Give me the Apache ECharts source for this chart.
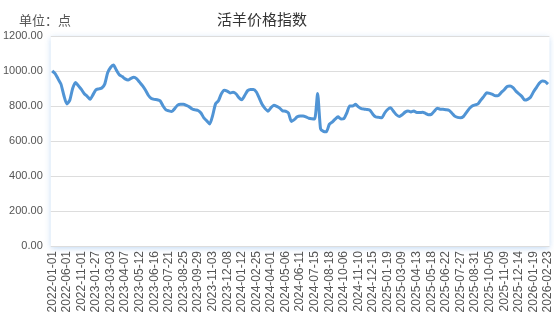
<!DOCTYPE html>
<html>
<head>
<meta charset="utf-8">
<script src="https://cdn.jsdelivr.net/npm/echarts@6/dist/echarts.min.js"></script>
<style>
html,body{margin:0;padding:0;background:#fff;}
#chart{width:554px;height:324px;}
</style>
</head>
<body>
<div id="chart"></div>
<script>
var chartTitle = '活羊价格指数';
var unitText = '单位：点';

var dates = [
'2022-01-01','2022-02-01','2022-03-01','2022-04-01','2022-05-01',
'2022-06-01','2022-07-01','2022-08-01','2022-09-01','2022-10-01',
'2022-11-01','2022-12-01','2023-01-06','2023-01-13','2023-01-20',
'2023-01-27','2023-02-03','2023-02-10','2023-02-17','2023-02-24',
'2023-03-03','2023-03-10','2023-03-17','2023-03-24','2023-03-31',
'2023-04-07','2023-04-14','2023-04-21','2023-04-28','2023-05-05',
'2023-05-12','2023-05-19','2023-05-26','2023-06-02','2023-06-09',
'2023-06-16','2023-06-23','2023-06-30','2023-07-07','2023-07-14',
'2023-07-21','2023-07-28','2023-08-04','2023-08-11','2023-08-18',
'2023-08-25','2023-09-01','2023-09-08','2023-09-15','2023-09-22',
'2023-09-29','2023-10-06','2023-10-13','2023-10-20','2023-10-27',
'2023-11-03','2023-11-10','2023-11-17','2023-11-24','2023-12-01',
'2023-12-08','2023-12-15','2023-12-22','2023-12-29','2024-01-05',
'2024-01-12','2024-01-19','2024-01-26','2024-02-02','2024-02-18',
'2024-02-25','2024-03-04','2024-03-11','2024-03-18','2024-03-25',
'2024-04-01','2024-04-08','2024-04-15','2024-04-22','2024-04-29',
'2024-05-06','2024-05-13','2024-05-20','2024-05-27','2024-06-03',
'2024-06-11','2024-06-17','2024-06-24','2024-07-01','2024-07-08',
'2024-07-15','2024-07-22','2024-07-29','2024-08-05','2024-08-11',
'2024-08-18','2024-08-25','2024-09-01','2024-09-08','2024-09-22',
'2024-10-06','2024-10-13','2024-10-20','2024-10-27','2024-11-03',
'2024-11-10','2024-11-17','2024-11-24','2024-12-01','2024-12-08',
'2024-12-15','2024-12-22','2024-12-29','2025-01-05','2025-01-12',
'2025-01-19','2025-01-26','2025-02-09','2025-02-16','2025-02-23',
'2025-03-09','2025-03-16','2025-03-23','2025-03-30','2025-04-06',
'2025-04-13','2025-04-20','2025-04-27','2025-05-04','2025-05-11',
'2025-05-18','2025-05-25','2025-06-01','2025-06-08','2025-06-15',
'2025-06-22','2025-06-29','2025-07-06','2025-07-13','2025-07-20',
'2025-07-27','2025-08-03','2025-08-10','2025-08-17','2025-08-24',
'2025-08-31','2025-09-07','2025-09-14','2025-09-21','2025-09-28',
'2025-10-05','2025-10-12','2025-10-19','2025-10-26','2025-11-02',
'2025-11-09','2025-11-16','2025-11-23','2025-11-30','2025-12-07',
'2025-12-14','2025-12-21','2025-12-28','2026-01-05','2026-01-12',
'2026-01-19','2026-01-26','2026-02-02','2026-02-09','2026-02-16',
'2026-02-23'
];

var indexValues = [
1000,985,955,925,860,
812,832,900,935,915,
895,870,855,838,865,
893,898,903,925,990,
1020,1034,1005,978,968,
955,948,958,964,955,
935,915,890,860,843,
838,836,830,800,778,
772,768,785,805,810,
810,803,795,783,778,
774,760,732,715,697,
745,812,830,870,890,
885,875,878,870,848,
836,860,888,895,895,
880,845,808,785,770,
790,805,798,788,772,
770,760,712,722,738,
743,743,738,730,727,
726,872,670,655,653,
695,708,725,738,726,
728,760,800,800,810,
795,785,782,780,775,
752,737,735,733,760,
780,790,770,750,740,
750,765,772,766,772,
763,763,764,758,750,
752,770,787,782,781,
779,776,760,742,735,
733,740,762,785,800,
806,812,835,855,876,
872,866,858,860,878,
893,912,915,905,885,
870,855,834,838,850,
880,905,930,943,940,
925
];

var yMin = 0, yMax = 1200, yStep = 200;

var chart = echarts.init(document.getElementById('chart'), null, {renderer:'canvas'});
chart.setOption({
  animation: false,
  backgroundColor: '#ffffff',
  title: [{
    text: chartTitle,
    left: 212,
    top: 7,
    textStyle: {fontFamily: 'Noto Sans CJK SC', fontSize: 15, fontWeight: 'normal', color: '#333'}
  }, {
    text: unitText,
    left: 14,
    top: 9,
    textStyle: {fontFamily: 'Noto Sans CJK SC', fontSize: 13, fontWeight: 'normal', color: '#555'}
  }],
  grid: {
    left: 50, right: 3, top: 36, bottom: 78,
    show: true,
    backgroundColor: '#ffffff',
    borderWidth: 0,
    shadowColor: 'rgba(70,140,220,0.35)',
    shadowBlur: 6,
    shadowOffsetY: 2
  },
  xAxis: {
    type: 'category',
    data: dates,
    boundaryGap: true,
    axisLine: {show: false},
    axisTick: {show: false},
    axisLabel: {
      interval: 4,
      rotate: 90,
      margin: 5,
      fontFamily: 'Liberation Sans',
      fontSize: 12,
      color: '#555'
    },
    splitLine: {show: false}
  },
  yAxis: {
    type: 'value',
    min: yMin, max: yMax, interval: yStep,
    axisLine: {show: false},
    axisTick: {show: false},
    axisLabel: {
      margin: 8,
      fontFamily: 'Liberation Sans',
      fontSize: 11,
      color: '#555',
      formatter: function (v) { return v.toFixed(2); }
    },
    splitLine: {lineStyle: {color: '#dddddd', width: 1}}
  },
  series: [{
    type: 'line',
    data: indexValues,
    showSymbol: false,
    smooth: 0.2,
    lineStyle: {color: '#5094d5', width: 3},
    itemStyle: {color: '#5094d5'}
  }]
});
</script>
</body>
</html>
